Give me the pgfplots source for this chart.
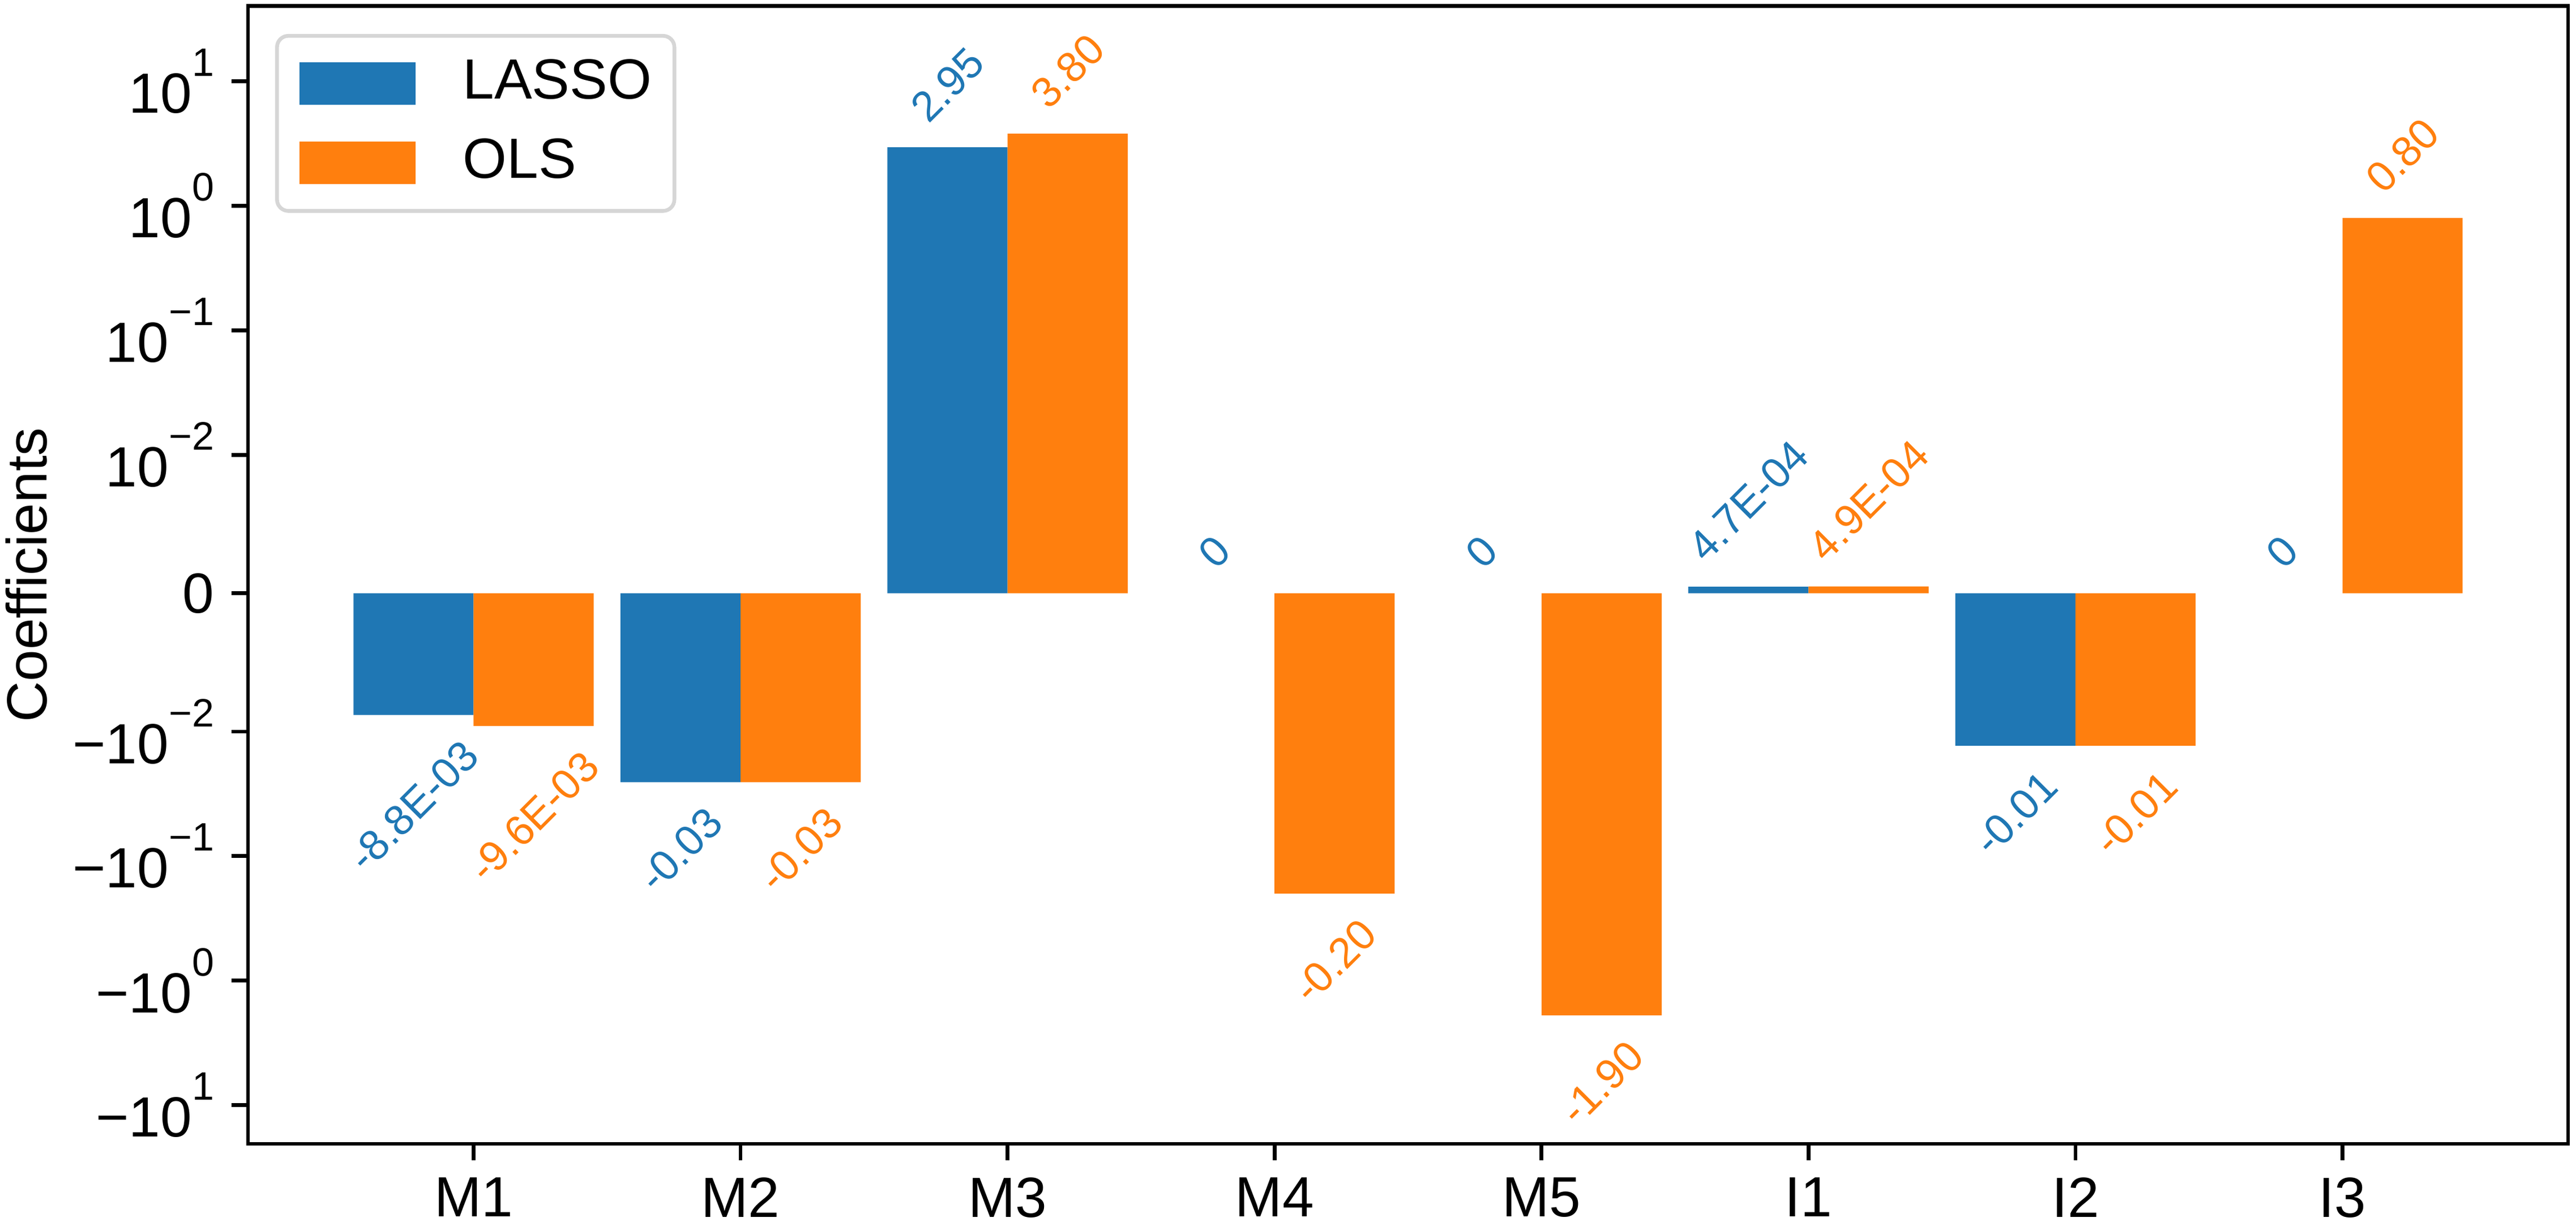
\documentclass[border=0pt]{standalone}
\usepackage{fontspec}
\setmainfont{Liberation Sans}
\usepackage{graphicx}
\usepackage{pgfplots}
\pgfplotsset{compat=1.18}
\usepackage{pgfplotstable}
\definecolor{tabblue}{HTML}{1F77B4}
\definecolor{taborange}{HTML}{FF7F0E}
\definecolor{legframe}{gray}{0.84}

% symmetric log transform (linthresh = 0.01, linscale = 1, base 10)
\pgfmathdeclarefunction{symlog}{1}{%
  \pgfmathparse{ifthenelse(abs(#1)<=0.01, 111.111111*(#1), ifthenelse(#1>0,1,-1)*(1.11111111+ln(max(abs(#1),1e-9)/0.01)/ln(10)))}%
}
\newcommand{\sexp}[1]{\raisebox{7.8pt}{\fontsize{8.4}{8.4}\selectfont #1}}

\pgfplotstableread{
x L O labL labO
0 -0.0088 -0.0096 -8.8E-03 -9.6E-03
1 -0.0255 -0.0255 -0.03 -0.03
2 2.95 3.80 2.95 3.80
3 0 -0.20 0 -0.20
4 0 -1.90 0 -1.90
5 0.00047 0.00049 4.7E-04 4.9E-04
6 -0.013 -0.013 -0.01 -0.01
7 0 0.80 0 0.80
}\coef

\pgfplotsset{
  barlabel/.style n args={3}{
    draw=none, mark=none, forget plot,
    point meta=explicit symbolic,
    nodes near coords={\rotatebox{45}{\pgfplotspointmeta}},
    every node near coord/.append style={text=#1, font=\fontsize{9}{9}\selectfont, inner sep=4.6pt, anchor=#2, xshift=#3},
  },
  barstyle/.style n args={2}{ybar, bar width=0.45, bar shift=#2, fill=#1, draw=none, forget plot},
}

\begin{document}
\begin{tikzpicture}
\begin{axis}[
  at={(0,0)}, anchor=south west,
  scale only axis, width=491.76pt, height=241.1pt,
  xmin=-0.845, xmax=7.845, ymin=-4.422, ymax=4.715,
  axis line style={line width=0.8pt, black},
  tick align=outside, major tick length=3.5pt,
  every tick/.style={black, line width=0.8pt},
  xtick pos=left, ytick pos=left,
  xtick={0,1,2,3,4,5,6,7},
  xticklabels={M1,M2,M3,M4,M5,I1,I2,I3},
  ytick={-4.1111111,-3.1111111,-2.1111111,-1.1111111,0,1.1111111,2.1111111,3.1111111,4.1111111},
  yticklabels={−10\sexp{1},−10\sexp{0},−10\sexp{−1},−10\sexp{−2},0,10\sexp{−2},10\sexp{−1},10\sexp{0},10\sexp{1}},
  tick label style={font=\fontsize{12}{14}\selectfont, inner sep=0pt},
  xticklabel style={yshift=-3.5pt},
  yticklabel style={xshift=-3.5pt},
  ylabel={Coefficients},
  every axis y label/.style={at={(axis description cs:0,0.5)}, xshift=-51.6pt, anchor=north, rotate=90, inner sep=0pt, font=\fontsize{12}{14}\selectfont},
  legend style={at={(axis description cs:0,1)}, anchor=north west, xshift=5.76pt, yshift=-5.9pt,
    draw=legframe, line width=0.8pt, rounded corners=2.4pt, fill=white,
    font=\fontsize{12}{14}\selectfont, inner xsep=4.8pt, inner ysep=4.5pt, row sep=5.5pt,
    nodes={inner sep=0pt, text height=8.8pt, text depth=2.5pt},
    /tikz/every odd column/.append style={column sep=10pt}},
  legend cell align=left,
]
% bars (positive and negative parts; zero-valued bars have no height)
\addplot[barstyle={tabblue}{-0.225}, restrict y to domain=0.00001:100]
  table[x=x, y expr={symlog(\thisrow{L})}] {\coef};
\addplot[barstyle={tabblue}{-0.225}, restrict y to domain=-100:-0.00001]
  table[x=x, y expr={symlog(\thisrow{L})}] {\coef};
\addplot[barstyle={taborange}{0.225}, restrict y to domain=0.00001:100]
  table[x=x, y expr={symlog(\thisrow{O})}] {\coef};
\addplot[barstyle={taborange}{0.225}, restrict y to domain=-100:-0.00001]
  table[x=x, y expr={symlog(\thisrow{O})}] {\coef};
% value labels (above for >= 0, below for < 0)
\addplot[barlabel={tabblue}{south}{-12.73pt}, restrict y to domain=-0.0001:100]
  table[x=x, y expr={symlog(\thisrow{L})}, meta=labL] {\coef};
\addplot[barlabel={tabblue}{north}{-12.73pt}, restrict y to domain=-100:-0.0001]
  table[x=x, y expr={symlog(\thisrow{L})}, meta=labL] {\coef};
\addplot[barlabel={taborange}{south}{12.73pt}, restrict y to domain=-0.0001:100]
  table[x=x, y expr={symlog(\thisrow{O})}, meta=labO] {\coef};
\addplot[barlabel={taborange}{north}{12.73pt}, restrict y to domain=-100:-0.0001]
  table[x=x, y expr={symlog(\thisrow{O})}, meta=labO] {\coef};
\addlegendimage{legend image code/.code={\fill[tabblue, sharp corners] (0pt,-4.1pt) rectangle (23.8pt,4.1pt);}}
\addlegendentry{LASSO}
\addlegendimage{legend image code/.code={\fill[taborange, sharp corners] (0pt,-4.1pt) rectangle (23.8pt,4.1pt);}}
\addlegendentry{OLS}
\end{axis}
\pgfresetboundingbox
\path[use as bounding box] (-52.56pt,-16.56pt) rectangle (493.44pt,242.4pt);
\end{tikzpicture}
\end{document}
